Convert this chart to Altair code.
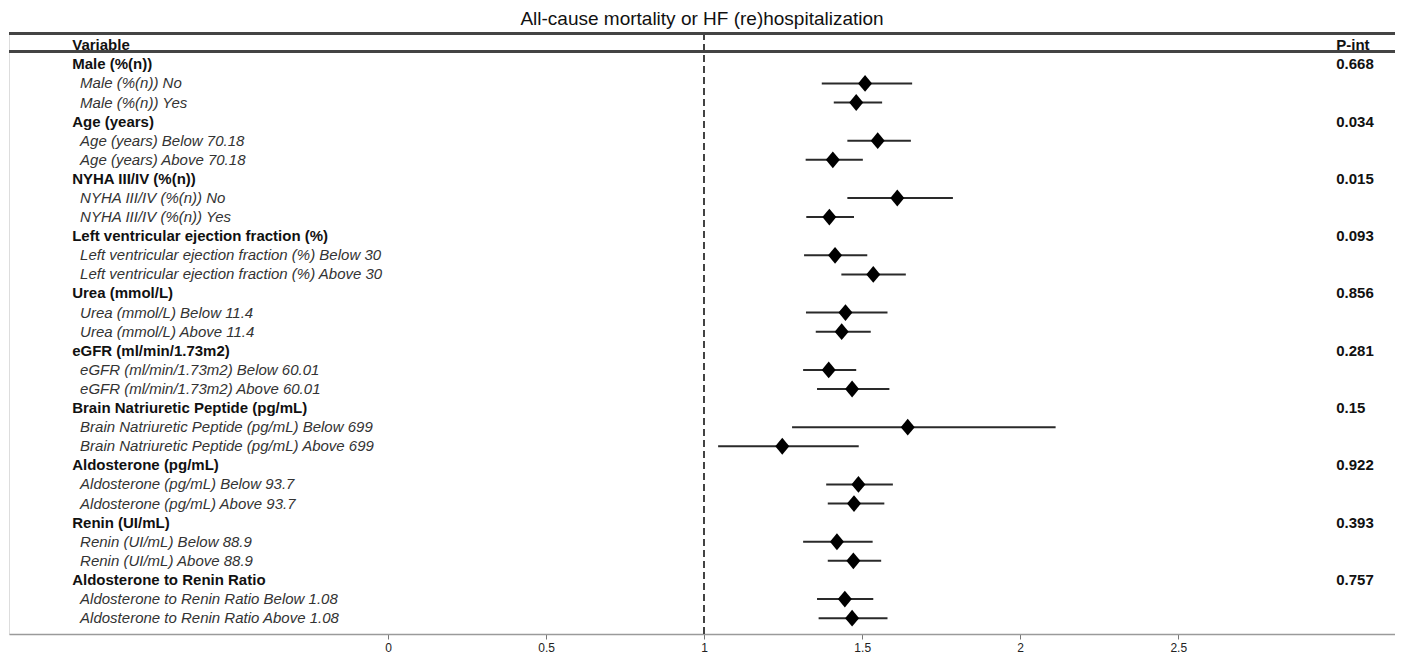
import altair as alt
import pandas as pd

# ---- data ----
variables = [
    "Male (%(n))",
    "Age (years)",
    "NYHA III/IV (%(n))",
    "Left ventricular ejection fraction (%)",
    "Urea (mmol/L)",
    "eGFR (ml/min/1.73m2)",
    "Brain Natriuretic Peptide (pg/mL)",
    "Aldosterone (pg/mL)",
    "Renin (UI/mL)",
    "Aldosterone to Renin Ratio",
]
subgroups = [
    ["No", "Yes"],
    ["Below 70.18", "Above 70.18"],
    ["No", "Yes"],
    ["Below 30", "Above 30"],
    ["Below 11.4", "Above 11.4"],
    ["Below 60.01", "Above 60.01"],
    ["Below 699", "Above 699"],
    ["Below 93.7", "Above 93.7"],
    ["Below 88.9", "Above 88.9"],
    ["Below 1.08", "Above 1.08"],
]
p_int = ["0.668", "0.034", "0.015", "0.093", "0.856", "0.281", "0.15", "0.922", "0.393", "0.757"]
estimate = [
    [1.509, 1.481], [1.549, 1.407], [1.611, 1.396], [1.414, 1.535], [1.447, 1.435],
    [1.394, 1.468], [1.644, 1.247], [1.488, 1.474], [1.420, 1.472], [1.445, 1.468],
]
ci_low = [
    [1.372, 1.410], [1.453, 1.321], [1.453, 1.323], [1.316, 1.434], [1.322, 1.353],
    [1.313, 1.357], [1.278, 1.044], [1.386, 1.391], [1.313, 1.391], [1.357, 1.362],
]
ci_high = [
    [1.658, 1.563], [1.654, 1.502], [1.787, 1.474], [1.516, 1.638], [1.580, 1.527],
    [1.481, 1.586], [2.112, 1.489], [1.597, 1.570], [1.533, 1.560], [1.535, 1.580],
]
tick_values = [0, 0.5, 1, 1.5, 2, 2.5]

# ---- build tables ----
head_rows, sub_rows = [], []
r = 0
for i, v in enumerate(variables):
    head_rows.append({"row": r, "label": v, "p": p_int[i]})
    r += 1
    for j, s in enumerate(subgroups[i]):
        sub_rows.append({
            "row": r, "label": f"{v} {s}",
            "est": estimate[i][j], "lo": ci_low[i][j], "hi": ci_high[i][j],
        })
        r += 1
heads = pd.DataFrame(head_rows)
subs = pd.DataFrame(sub_rows)
colhead = pd.DataFrame([{"row": -1, "label": "Variable", "xpos": -1.0},
                        {"row": -1, "label": "P-int", "xpos": 3.0}])

FONT = "Liberation Sans"
FS = 15
xs = alt.Scale(domain=[-1.2, 3.186], nice=False, zero=False)
ys = alt.Scale(domain=[-1.64, 29.83], nice=False, zero=False, reverse=True)
W, H = 1386, 601

xaxis = alt.Axis(values=tick_values, format=".1~f", title=None, grid=False,
                 domainColor="#9a9a9a", domainWidth=1.5, tickColor="#777",
                 tickSize=5, tickWidth=1, labelFont=FONT, labelFontSize=12,
                 labelColor="#222", labelPadding=3)

errbars = alt.Chart(subs).mark_rule(color="#2a2a2a", strokeWidth=2).encode(
    x=alt.X("lo:Q", scale=xs, axis=xaxis),
    x2="hi:Q",
    y=alt.Y("row:Q", scale=ys, axis=None),
)

diamond = "M0,-1.2L1,0L0,1.2L-1,0Z"
points = alt.Chart(subs).mark_point(shape=diamond, filled=True, size=196,
                                    color="black", opacity=1).encode(
    x=alt.X("est:Q", scale=xs),
    y=alt.Y("row:Q", scale=ys, axis=None),
)

vline = alt.Chart(heads).mark_rule(color="#444", strokeWidth=1.5,
                                   strokeDash=[7, 4]).encode(
    x=alt.datum(1.0, scale=xs),
)

top_line = alt.Chart(heads).mark_rule(color="#444", strokeWidth=2.5).encode(
    x=alt.value(0), x2=alt.value(W), y=alt.value(0.5),
)
head_line = alt.Chart(heads).mark_rule(color="#444", strokeWidth=2.5).encode(
    x=alt.value(0), x2=alt.value(W), y=alt.value(18.7),
)

head_text = alt.Chart(heads).mark_text(align="left", baseline="middle", font=FONT,
                                       fontSize=FS, fontWeight="bold",
                                       color="#111").encode(
    x=alt.datum(-1.0, scale=xs),
    y=alt.Y("row:Q", scale=ys, axis=None),
    text="label:N",
)
p_text = alt.Chart(heads).mark_text(align="left", baseline="middle", font=FONT,
                                    fontSize=FS, fontWeight="bold",
                                    color="#111").encode(
    x=alt.datum(3.0, scale=xs),
    y=alt.Y("row:Q", scale=ys, axis=None),
    text="p:N",
)
sub_text = alt.Chart(subs).mark_text(align="left", baseline="middle", font=FONT,
                                     fontSize=FS, fontStyle="italic",
                                     color="#333").encode(
    x=alt.datum(-0.975, scale=xs),
    y=alt.Y("row:Q", scale=ys, axis=None),
    text="label:N",
)
col_text = alt.Chart(colhead).mark_text(align="left", baseline="middle", font=FONT,
                                        fontSize=FS, fontWeight="bold",
                                        color="#111").encode(
    x=alt.X("xpos:Q", scale=xs),
    y=alt.Y("row:Q", scale=ys, axis=None),
    text="label:N",
)

chart = alt.layer(
    vline, top_line, head_line, errbars, points, head_text, sub_text, p_text, col_text
).properties(
    width=W, height=H,
    padding={"left": 1, "top": 25, "right": 0, "bottom": 20},
    autosize=alt.AutoSizeParams(type="none"),
    title=alt.TitleParams("All-cause mortality or HF (re)hospitalization",
                          font=FONT, fontSize=19, fontWeight="normal",
                          color="#111", anchor="middle", offset=3),
).configure_view(stroke=None).configure(background="white")

chart.save("out.html", embed_options={"renderer": "svg", "actions": False})
